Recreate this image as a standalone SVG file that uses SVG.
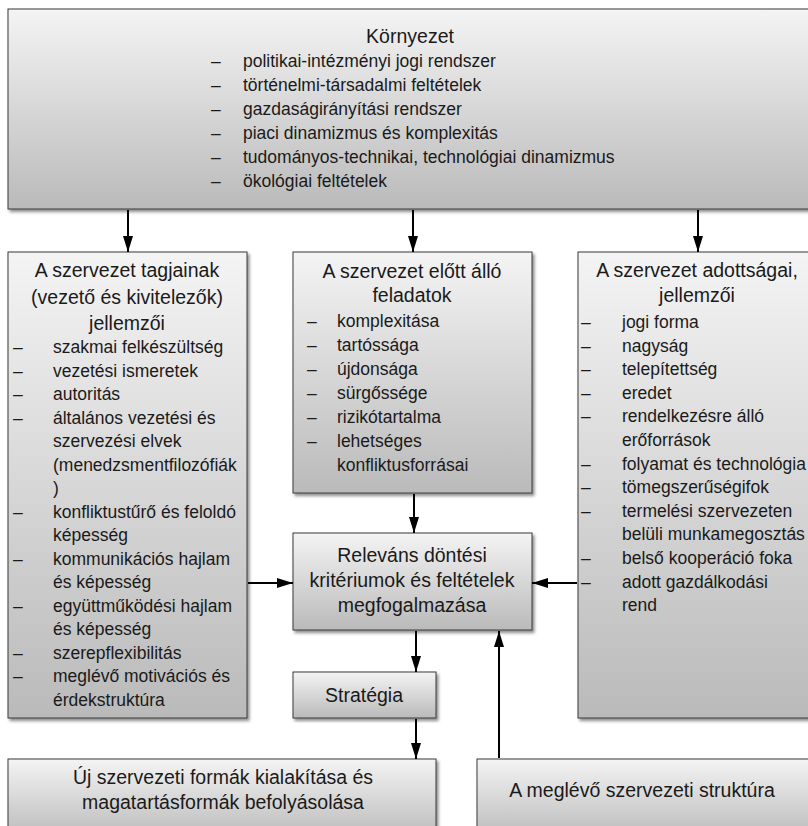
<svg xmlns="http://www.w3.org/2000/svg" width="808" height="826" viewBox="0 0 808 826">
  <defs>
    <linearGradient id="boxFill" x1="0" y1="0" x2="0" y2="1">
      <stop offset="0" stop-color="#f4f4f4"/>
      <stop offset="1" stop-color="#bababa"/>
    </linearGradient>
    <filter id="shadow" x="-5%" y="-5%" width="115%" height="115%">
      <feDropShadow dx="2" dy="2.5" stdDeviation="1.5" flood-color="#000" flood-opacity="0.45"/>
    </filter>
    <marker id="arrow" viewBox="0 0 16 10" refX="16" refY="5" markerWidth="16" markerHeight="10" markerUnits="userSpaceOnUse" orient="auto">
      <path d="M0,0 L16,5 L0,10 Z" fill="#000"/>
    </marker>
  </defs>
  <style>
    .box { fill: url(#boxFill); stroke: #3a3a3a; stroke-width: 1; filter: url(#shadow); }
    .title { font-family: "Liberation Sans", Arial, sans-serif; font-size: 19.5px; fill: #1a1a1a; text-anchor: middle; }
    .item { font-family: "Liberation Sans", Arial, sans-serif; font-size: 17.5px; fill: #1a1a1a; }
    .conn { stroke: #000; stroke-width: 2; fill: none; marker-end: url(#arrow); }
  </style>
  <rect width="808" height="826" fill="#fff"/>

  <!-- Környezet -->
  <g id="kornyezet">
    <rect class="box" x="8" y="9" width="820" height="200"/>
    <text class="title" x="410" y="43">Környezet</text>
    <g class="item">
      <text x="211" y="67">–</text><text x="243" y="67">politikai-intézményi jogi rendszer</text>
      <text x="211" y="91">–</text><text x="243" y="91">történelmi-társadalmi feltételek</text>
      <text x="211" y="115">–</text><text x="243" y="115">gazdaságirányítási rendszer</text>
      <text x="211" y="139">–</text><text x="243" y="139">piaci dinamizmus és komplexitás</text>
      <text x="211" y="163">–</text><text x="243" y="163">tudományos-technikai, technológiai dinamizmus</text>
      <text x="211" y="187">–</text><text x="243" y="187">ökológiai feltételek</text>
    </g>
  </g>

  <!-- A szervezet tagjainak jellemzői -->
  <g id="tagok">
    <rect class="box" x="8" y="252" width="239" height="466"/>
    <text class="title" x="127" y="277">A szervezet tagjainak</text>
    <text class="title" x="127" y="304">(vezető és kivitelezők)</text>
    <text class="title" x="127" y="330">jellemzői</text>
    <g class="item">
      <text x="13" y="353">–</text><text x="53" y="353">szakmai felkészültség</text>
      <text x="13" y="376.5">–</text><text x="53" y="376.5">vezetési ismeretek</text>
      <text x="13" y="400">–</text><text x="53" y="400">autoritás</text>
      <text x="13" y="423.5">–</text><text x="53" y="423.5">általános vezetési és</text>
      <text x="53" y="447">szervezési elvek</text>
      <text x="53" y="470.5">(menedzsmentfilozófiák</text>
      <text x="53" y="494">)</text>
      <text x="13" y="517.5">–</text><text x="53" y="517.5">konfliktustűrő és feloldó</text>
      <text x="53" y="541">képesség</text>
      <text x="13" y="564.5">–</text><text x="53" y="564.5">kommunikációs hajlam</text>
      <text x="53" y="588">és képesség</text>
      <text x="13" y="611.5">–</text><text x="53" y="611.5">együttműködési hajlam</text>
      <text x="53" y="635">és képesség</text>
      <text x="13" y="658.5">–</text><text x="53" y="658.5">szerepflexibilitás</text>
      <text x="13" y="682">–</text><text x="53" y="682">meglévő motivációs és</text>
      <text x="53" y="705.5">érdekstruktúra</text>
    </g>
  </g>

  <!-- A szervezet előtt álló feladatok -->
  <g id="feladatok">
    <rect class="box" x="293" y="252" width="239" height="241"/>
    <text class="title" x="412" y="278">A szervezet előtt álló</text>
    <text class="title" x="412" y="302">feladatok</text>
    <g class="item">
      <text x="307" y="327">–</text><text x="337" y="327">komplexitása</text>
      <text x="307" y="351">–</text><text x="337" y="351">tartóssága</text>
      <text x="307" y="375">–</text><text x="337" y="375">újdonsága</text>
      <text x="307" y="399">–</text><text x="337" y="399">sürgőssége</text>
      <text x="307" y="423">–</text><text x="337" y="423">rizikótartalma</text>
      <text x="307" y="447">–</text><text x="337" y="447">lehetséges</text>
      <text x="337" y="471">konfliktusforrásai</text>
    </g>
  </g>

  <!-- A szervezet adottságai, jellemzői -->
  <g id="adottsagok">
    <rect class="box" x="578" y="252" width="240" height="466"/>
    <text class="title" x="697" y="277">A szervezet adottságai,</text>
    <text class="title" x="697" y="302">jellemzői</text>
    <g class="item">
      <text x="581" y="328">–</text><text x="622" y="328">jogi forma</text>
      <text x="581" y="351.6">–</text><text x="622" y="351.6">nagyság</text>
      <text x="581" y="375.2">–</text><text x="622" y="375.2">telepítettség</text>
      <text x="581" y="398.8">–</text><text x="622" y="398.8">eredet</text>
      <text x="581" y="422.4">–</text><text x="622" y="422.4">rendelkezésre álló</text>
      <text x="622" y="446">erőforrások</text>
      <text x="581" y="469.6">–</text><text x="622" y="469.6">folyamat és technológia</text>
      <text x="581" y="493.2">–</text><text x="622" y="493.2">tömegszerűségifok</text>
      <text x="581" y="516.8">–</text><text x="622" y="516.8">termelési szervezeten</text>
      <text x="622" y="540.4">belüli munkamegosztás</text>
      <text x="581" y="564">–</text><text x="622" y="564">belső kooperáció foka</text>
      <text x="581" y="587.6">–</text><text x="622" y="587.6">adott gazdálkodási</text>
      <text x="622" y="611.2">rend</text>
    </g>
  </g>

  <!-- Releváns döntési kritériumok -->
  <g id="kriteriumok">
    <rect class="box" x="293" y="533" width="239" height="97"/>
    <text class="title" x="412" y="562">Releváns döntési</text>
    <text class="title" x="412" y="587">kritériumok és feltételek</text>
    <text class="title" x="412" y="612">megfogalmazása</text>
  </g>

  <!-- Stratégia -->
  <g id="strategia">
    <rect class="box" x="293" y="672" width="143" height="46"/>
    <text class="title" x="364" y="702">Stratégia</text>
  </g>

  <!-- Új szervezeti formák -->
  <g id="uj-formak">
    <rect class="box" x="8" y="759" width="428" height="80"/>
    <text class="title" x="223" y="784">Új szervezeti formák kialakítása és</text>
    <text class="title" x="223" y="809">magatartásformák befolyásolása</text>
  </g>

  <!-- A meglévő szervezeti struktúra -->
  <g id="meglevo">
    <rect class="box" x="477" y="759" width="340" height="80"/>
    <text class="title" x="642" y="797">A meglévő szervezeti struktúra</text>
  </g>

  <!-- connectors -->
  <g id="connectors">
    <line class="conn" x1="128" y1="210" x2="128" y2="252"/>
    <line class="conn" x1="413" y1="210" x2="413" y2="252"/>
    <line class="conn" x1="698" y1="210" x2="698" y2="252"/>
    <line class="conn" x1="414" y1="494" x2="414" y2="533"/>
    <line class="conn" x1="248" y1="583" x2="293" y2="583"/>
    <line class="conn" x1="577" y1="583" x2="532" y2="583"/>
    <line class="conn" x1="416" y1="631" x2="416" y2="672"/>
    <line class="conn" x1="416" y1="719" x2="416" y2="759"/>
    <line class="conn" x1="499" y1="758" x2="499" y2="631"/>
  </g>
</svg>
